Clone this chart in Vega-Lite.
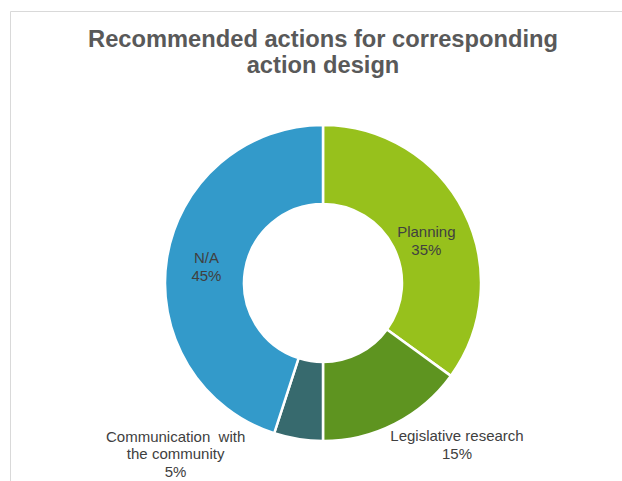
{
  "$schema": "https://vega.github.io/schema/vega-lite/v6.json",
  "width": 622,
  "height": 481,
  "autosize": {"type": "fit", "contains": "padding"},
  "padding": {"left": 10, "top": 11, "right": -14, "bottom": -74},
  "background": "white",
  "view": {"stroke": "#d9d9d9", "strokeWidth": 1},
  "config": {
    "font": "Liberation Sans"
  },
  "title": {
    "text": ["Recommended actions for corresponding", "action design"],
    "fontSize": 23.7,
    "fontWeight": "bold",
    "color": "#595959",
    "font": "Liberation Sans",
    "anchor": "middle",
    "frame": "group",
    "lineHeight": 26,
    "offset": -67
  },
  "data": {
    "values": [
      {"category": "Planning", "value": 35, "idx": 1, "label": "Planning|35%"},
      {"category": "Legislative research", "value": 15, "idx": 2, "label": "Legislative research|15%"},
      {"category": "Communication with the community", "value": 5, "idx": 3, "label": "Communication\u00a0 with|the community|5%"},
      {"category": "N/A", "value": 45, "idx": 4, "label": "N/A|45%"}
    ]
  },
  "encoding": {
    "theta": {"field": "value", "type": "quantitative", "stack": true},
    "order": {"field": "idx", "type": "quantitative"}
  },
  "layer": [
    {
      "mark": {"type": "arc", "outerRadius": 158, "innerRadius": 79, "stroke": "white", "strokeWidth": 2.5},
      "encoding": {
        "color": {
          "field": "category",
          "type": "nominal",
          "scale": {
            "domain": ["Planning", "Legislative research", "Communication with the community", "N/A"],
            "range": ["#97c11c", "#5e9420", "#376a6e", "#339aca"]
          },
          "legend": null
        }
      }
    },
    {
      "mark": {"type": "text", "radius": 116, "fontSize": 15, "color": "#404040", "lineBreak": "|", "lineHeight": 18, "dy": 2},
      "encoding": {"text": {"condition": {"test": "datum.idx == 1", "field": "label"}, "value": ""}}
    },
    {
      "mark": {"type": "text", "radius": 116, "fontSize": 15, "color": "#404040", "lineBreak": "|", "lineHeight": 18, "dx": -2, "dy": -7},
      "encoding": {"text": {"condition": {"test": "datum.idx == 4", "field": "label"}, "value": ""}}
    },
    {
      "mark": {"type": "text", "radius": 185, "fontSize": 15, "color": "#404040", "lineBreak": "|", "lineHeight": 18, "dx": 50, "dy": -12},
      "encoding": {"text": {"condition": {"test": "datum.idx == 2", "field": "label"}, "value": ""}}
    },
    {
      "mark": {"type": "text", "radius": 175, "fontSize": 15, "color": "#404040", "lineBreak": "|", "lineHeight": 17.5, "dx": -120, "dy": -19},
      "encoding": {"text": {"condition": {"test": "datum.idx == 3", "field": "label"}, "value": ""}}
    }
  ]
}
